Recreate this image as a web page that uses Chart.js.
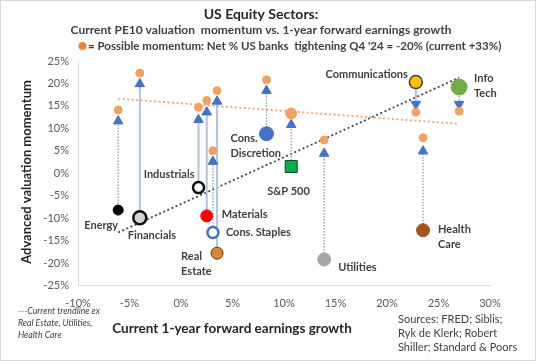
<!DOCTYPE html>
<html>
<head>
<meta charset="utf-8">
<style>
  html, body { margin: 0; padding: 0; background: #fff; }
  canvas { display: block; }
</style>
</head>
<body>
<canvas id="sectorChart" width="536" height="361"></canvas>
<script src="https://cdn.jsdelivr.net/npm/chart.js@4.4.1/dist/chart.umd.min.js"></script>
<script>
// values, in percent
const sectors = ['Energy', 'Financials', 'Industrials', 'Materials', 'Cons. Staples', 'Real Estate',
                 'Cons. Discretion', 'S&P 500', 'Utilities', 'Communications', 'Info Tech', 'Health Care'];
const earningsGrowth    = [-6.1, -4.0, 1.7, 2.5, 3.1, 3.5, 8.3, 10.7, 13.9, 22.8, 27.0, 23.5];
const valuationNow      = [-8.2, -9.9, -3.2, -9.5, -13.2, -17.8, 8.8, 1.5, -19.2, 20.3, 19.2, -12.7];
const valuationAdvanced = [11.6, 19.9, 11.9, 13.6, 2.6, 16.0, 18.4, 10.8, 4.4, 15.4, 15.4, 4.9];
const valuationPossible = [14.1, 22.3, 14.7, 16.2, 5.0, 18.4, 20.8, 13.3, 7.4, 13.6, 13.8, 7.9];

// trendlines (two ends each)
const trendX        = [-6.1, 27.0];
const trendNowY     = [-13.2, 21.3];
const trendPossibleY = [16.6, 11.0];

const xTickValues = [-10, -5, 0, 5, 10, 15, 20, 25, 30];
const yTickValues = [-25, -20, -15, -10, -5, 0, 5, 10, 15, 20, 25];

// marker look for each sector (same order as sectors)
const markerLook = [
  { fill: '#000000', line: '#000000', width: 1,   r: 5,   style: 'circle' },
  { fill: '#d4d4d4', line: '#111111', width: 2.5, r: 6.5, style: 'circle' },
  { fill: '#ffffff', line: '#111111', width: 2.5, r: 5.5, style: 'circle' },
  { fill: '#ff0000', line: '#ff0000', width: 1,   r: 6,   style: 'circle' },
  { fill: '#ffffff', line: '#4472c4', width: 2.5, r: 5.5, style: 'circle' },
  { fill: '#d9853b', line: '#6b3a10', width: 1,   r: 6,   style: 'circle' },
  { fill: '#4472c4', line: '#4472c4', width: 1,   r: 7,   style: 'circle' },
  { fill: '#00b050', line: '#1e4620', width: 1,   r: 8.5, style: 'rect' },
  { fill: '#a6a6a6', line: '#a6a6a6', width: 1,   r: 6.5, style: 'circle' },
  { fill: '#ffc000', line: '#404040', width: 1.5, r: 6.5, style: 'circle' },
  { fill: '#70ad47', line: '#70ad47', width: 1,   r: 8,   style: 'circle' },
  { fill: '#a5541f', line: '#a5541f', width: 1,   r: 6.5, style: 'circle' }
];
const solidStems = ['Financials', 'Industrials', 'Materials', 'Real Estate', 'Communications'];

// label placement relative to the marker: [dx, dy, align, lines...]
const labelPlace = [
  [0, 15, 'right', 'Energy'],
  [-12, 18, 'left', 'Financials'],
  [-4, -13, 'right', 'Industrials'],
  [15, -1, 'left', 'Materials'],
  [13, 0, 'left', 'Cons. Staples'],
  [-36, 3, 'left', 'Real', 'Estate'],
  [-36, 5, 'left', 'Cons.', 'Discretion'],
  [-24, 25, 'left', 'S&P 500'],
  [14, 8, 'left', 'Utilities'],
  [-8, -8, 'right', 'Communications'],
  [15, -9, 'left', 'Info', 'Tech'],
  [15, -1, 'left', 'Health', 'Care']
];

const FONT = "Lato, 'Open Sans', sans-serif";
const TEXT = '#404040';

const datasets = [];

// current position
datasets.push({
  type: 'scatter',
  label: 'current',
  data: sectors.map((s, i) => ({ x: earningsGrowth[i], y: valuationNow[i] })),
  pointStyle: markerLook.map(m => m.style),
  pointRadius: markerLook.map(m => m.r),
  pointBackgroundColor: markerLook.map(m => m.fill),
  pointBorderColor: markerLook.map(m => m.line),
  pointBorderWidth: markerLook.map(m => m.width),
  showLine: false
});

// possible momentum (orange)
datasets.push({
  type: 'scatter',
  label: 'possible',
  data: sectors.map((s, i) => ({ x: earningsGrowth[i], y: valuationPossible[i] })),
  pointRadius: sectors.map(s => s === 'S&P 500' ? 5.5 : 4),
  pointBackgroundColor: '#f0a265',
  pointBorderColor: '#f0a265',
  pointBorderWidth: 1,
  showLine: false
});

// advanced momentum (blue triangles)
datasets.push({
  type: 'scatter',
  label: 'advanced',
  data: sectors.map((s, i) => ({ x: earningsGrowth[i], y: valuationAdvanced[i] })),
  pointStyle: 'triangle',
  rotation: sectors.map((s, i) => valuationAdvanced[i] < valuationNow[i] ? 180 : 0),
  pointRadius: 5.5,
  pointBackgroundColor: '#4472c4',
  pointBorderColor: '#4472c4',
  pointBorderWidth: 1,
  showLine: false
});

// stems from current to advanced
sectors.forEach((s, i) => {
  const solid = solidStems.includes(s);
  datasets.push({
    type: 'line',
    label: 'stem ' + s,
    data: [{ x: earningsGrowth[i], y: valuationNow[i] }, { x: earningsGrowth[i], y: valuationAdvanced[i] }],
    borderColor: solid ? '#b4c3dc' : '#8e9db5',
    borderWidth: solid ? 2 : 1.3,
    borderDash: solid ? [] : [1.5, 1.5],
    pointRadius: 0
  });
});

// trendlines
datasets.push({
  type: 'line',
  label: 'trend possible',
  data: trendX.map((x, i) => ({ x: x, y: trendPossibleY[i] })),
  borderColor: '#eea46a',
  borderWidth: 1.8,
  borderDash: [2, 2.5],
  pointRadius: 0
});
datasets.push({
  type: 'line',
  label: 'trend now',
  data: trendX.map((x, i) => ({ x: x, y: trendNowY[i] })),
  borderColor: '#3d4a4a',
  borderWidth: 1.8,
  borderDash: [2, 2.5],
  pointRadius: 0
});

function text(ctx, s, x, y, font, color, align) {
  ctx.font = font;
  ctx.fillStyle = color;
  ctx.textAlign = align || 'left';
  ctx.textBaseline = 'middle';
  ctx.fillText(s, x, y);
}

const framePlugin = {
  id: 'frame',
  beforeDraw(chart) {
    const ctx = chart.ctx;
    ctx.save();
    ctx.fillStyle = '#ffffff';
    ctx.fillRect(0, 0, chart.width, chart.height);
    ctx.strokeStyle = '#d9d9d9';
    ctx.lineWidth = 1;
    ctx.strokeRect(0.5, 0.5, chart.width - 1, chart.height - 1);
    ctx.restore();
  },
  afterDraw(chart) {
    const ctx = chart.ctx;
    ctx.save();
    // header
    text(ctx, 'US Equity Sectors:', 261, 14, 'bold 14px ' + FONT, '#262626', 'center');
    text(ctx, 'Current PE10 valuation  momentum vs. 1-year forward earnings growth', 261, 30, 'bold 12px ' + FONT, TEXT, 'center');
    ctx.beginPath();
    ctx.arc(82.5, 46, 4, 0, Math.PI * 2);
    ctx.fillStyle = '#e8873c';
    ctx.fill();
    text(ctx, "= Possible momentum: Net % US banks  tightening Q4 '24 = -20% (current +33%)", 88, 46, 'bold 11.5px ' + FONT, TEXT, 'left');

    // axis titles
    ctx.save();
    ctx.translate(27, 172);
    ctx.rotate(-Math.PI / 2);
    text(ctx, 'Advanced valuation momentum', 0, 0, 'bold 13px ' + FONT, '#262626', 'center');
    ctx.restore();
    text(ctx, 'Current 1-year forward earnings growth', 232, 329, 'bold 13.5px ' + FONT, '#262626', 'center');

    // notes
    const note = 'italic 8.8px ' + FONT;
    text(ctx, '---Current trendline ex', 18, 311, note, TEXT);
    text(ctx, 'Real Estate, Utilities,', 18, 323, note, TEXT);
    text(ctx, 'Health Care', 18, 335, note, TEXT);
    const src = '11px ' + FONT;
    text(ctx, 'Sources: FRED; Siblis;', 398, 319, src, TEXT);
    text(ctx, 'Ryk de Klerk; Robert', 398, 333, src, TEXT);
    text(ctx, 'Shiller; Standard & Poors', 398, 347, src, TEXT);

    // sector labels next to their markers
    const meta = chart.getDatasetMeta(0);
    meta.data.forEach((pt, i) => {
      const [dx, dy, align, ...lines] = labelPlace[i];
      lines.forEach((ln, k) => {
        text(ctx, ln, pt.x + dx, pt.y + dy + k * 15, 'bold 11px ' + FONT, TEXT, align);
      });
    });
    ctx.restore();
  }
};

const tickFont = { family: FONT, size: 11 };

new Chart(document.getElementById('sectorChart'), {
  type: 'scatter',
  data: { datasets: datasets },
  options: {
    responsive: false,
    animation: false,
    layout: { padding: { top: 61, right: 46, bottom: 45.5, left: 38 } },
    plugins: {
      legend: { display: false },
      tooltip: { enabled: false },
      title: { display: false }
    },
    scales: {
      x: {
        type: 'linear',
        min: -10,
        max: 30,
        afterBuildTicks: axis => { axis.ticks = xTickValues.map(v => ({ value: v })); },
        afterFit: axis => { axis.height = 30; },
        ticks: { callback: v => v + '%', font: tickFont, color: '#595959', padding: 11 },
        grid: { display: false, drawTicks: false },
        border: { display: true, color: '#d9d9d9', width: 1 }
      },
      y: {
        type: 'linear',
        min: -25,
        max: 25,
        afterBuildTicks: axis => { axis.ticks = yTickValues.map(v => ({ value: v })); },
        afterFit: axis => { axis.width = 40; },
        ticks: { callback: v => v + '%', font: tickFont, color: '#595959', padding: 9 },
        grid: { display: false, drawTicks: false },
        border: { display: true, color: '#d9d9d9', width: 1 }
      }
    }
  },
  plugins: [framePlugin]
});
</script>
</body>
</html>
